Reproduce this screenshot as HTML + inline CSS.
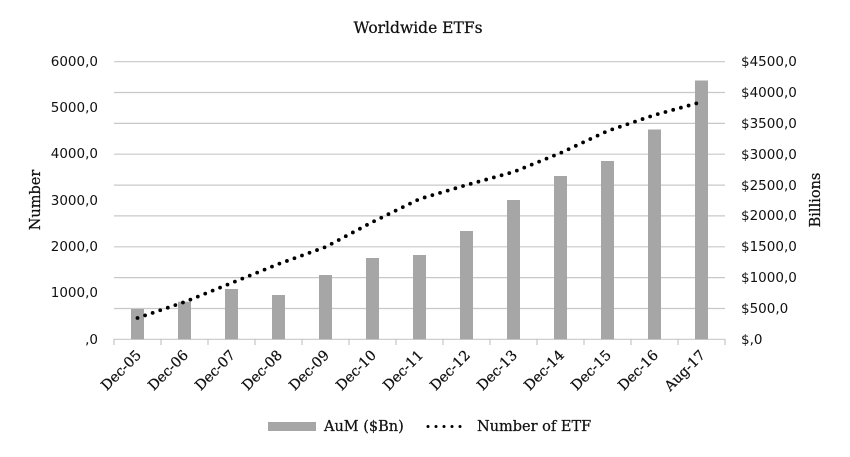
<!DOCTYPE html>
<html><head><meta charset="utf-8"><style>
body{margin:0;background:#fff;}
svg text{fill:#111;}
.t{font-family:"DejaVu Sans","Liberation Sans",sans-serif;font-size:13.5px;}
.s{font-family:"DejaVu Serif","Liberation Serif",serif;stroke:#111;stroke-width:0.25px;}
</style></head><body>
<svg width="850" height="452" xmlns="http://www.w3.org/2000/svg">
<text class="s" x="418" y="33" text-anchor="middle" font-size="15.5">Worldwide ETFs</text>
<g stroke="#c8c8c8" stroke-width="1.2">
<line x1="114" x2="725" y1="61.7" y2="61.7"/><line x1="114" x2="725" y1="92.5" y2="92.5"/>
<line x1="114" x2="725" y1="123.4" y2="123.4"/><line x1="114" x2="725" y1="154.2" y2="154.2"/>
<line x1="114" x2="725" y1="185.1" y2="185.1"/><line x1="114" x2="725" y1="215.9" y2="215.9"/>
<line x1="114" x2="725" y1="246.8" y2="246.8"/><line x1="114" x2="725" y1="277.6" y2="277.6"/>
<line x1="114" x2="725" y1="308.5" y2="308.5"/><line x1="114" x2="725" y1="339.3" y2="339.3"/>
</g>
<g stroke="#bbb" stroke-width="1">
<line x1="114" x2="114" y1="339" y2="345"/><line x1="161" x2="161" y1="339" y2="345"/><line x1="208" x2="208" y1="339" y2="345"/><line x1="255" x2="255" y1="339" y2="345"/><line x1="302" x2="302" y1="339" y2="345"/><line x1="349" x2="349" y1="339" y2="345"/><line x1="396" x2="396" y1="339" y2="345"/><line x1="443" x2="443" y1="339" y2="345"/><line x1="490" x2="490" y1="339" y2="345"/><line x1="537" x2="537" y1="339" y2="345"/><line x1="584" x2="584" y1="339" y2="345"/><line x1="631" x2="631" y1="339" y2="345"/><line x1="678" x2="678" y1="339" y2="345"/><line x1="725" x2="725" y1="339" y2="345"/>
</g>
<g fill="#a6a6a6">
<rect x="131" y="309" width="13" height="30.3"/>
<rect x="178" y="301.7" width="13" height="37.6"/>
<rect x="225" y="289" width="13" height="50.3"/>
<rect x="272" y="295" width="13" height="44.3"/>
<rect x="319" y="275" width="13" height="64.3"/>
<rect x="366" y="258" width="13" height="81.3"/>
<rect x="413" y="255" width="13" height="84.3"/>
<rect x="460" y="231" width="13" height="108.3"/>
<rect x="507" y="200" width="13" height="139.3"/>
<rect x="554" y="176" width="13" height="163.3"/>
<rect x="601" y="161" width="13" height="178.3"/>
<rect x="648" y="129.5" width="13" height="209.8"/>
<rect x="695" y="80.5" width="13" height="258.8"/>
</g>
<polyline fill="none" stroke="#000" stroke-width="3.8" stroke-linecap="round" stroke-dasharray="0 8"
points="137.5,318 184.5,302 231.5,283 278.5,264 325.5,247 372.5,222 419.5,199 466.5,185 513.5,172 560.5,153 607.5,131 654.5,115 701.5,102"/>
<g class="t" text-anchor="end">
<text x="98" y="66">6000,0</text><text x="98" y="112">5000,0</text><text x="98" y="158">4000,0</text>
<text x="98" y="205">3000,0</text><text x="98" y="251">2000,0</text><text x="98" y="297">1000,0</text><text x="98" y="344">,0</text>
</g>
<g class="t">
<text x="741" y="66">$4500,0</text><text x="741" y="97">$4000,0</text><text x="741" y="128">$3500,0</text>
<text x="741" y="159">$3000,0</text><text x="741" y="190">$2500,0</text><text x="741" y="220">$2000,0</text>
<text x="741" y="251">$1500,0</text><text x="741" y="282">$1000,0</text><text x="741" y="313">$500,0</text><text x="741" y="344">$,0</text>
</g>
<text class="s" font-size="14.5" transform="translate(40,200) rotate(-90)" text-anchor="middle">Number</text>
<text class="s" font-size="14.5" transform="translate(820,200) rotate(-90)" text-anchor="middle">Billions</text>
<g class="s" font-size="14" text-anchor="end">
<text transform="translate(142,356) rotate(-45)">Dec-05</text>
<text transform="translate(189,356) rotate(-45)">Dec-06</text>
<text transform="translate(236,356) rotate(-45)">Dec-07</text>
<text transform="translate(283,356) rotate(-45)">Dec-08</text>
<text transform="translate(330,356) rotate(-45)">Dec-09</text>
<text transform="translate(377,356) rotate(-45)">Dec-10</text>
<text transform="translate(424,356) rotate(-45)">Dec-11</text>
<text transform="translate(471,356) rotate(-45)">Dec-12</text>
<text transform="translate(518,356) rotate(-45)">Dec-13</text>
<text transform="translate(565,356) rotate(-45)">Dec-14</text>
<text transform="translate(612,356) rotate(-45)">Dec-15</text>
<text transform="translate(659,356) rotate(-45)">Dec-16</text>
<text transform="translate(706,356) rotate(-45)">Aug-17</text>
</g>
<rect x="268" y="422" width="48" height="9" fill="#a6a6a6"/>
<text class="s" x="324" y="431" font-size="14.5">AuM ($Bn)</text>
<line x1="428" x2="468" y1="426.5" y2="426.5" stroke="#000" stroke-width="3" stroke-linecap="round" stroke-dasharray="0 8"/>
<text class="s" x="477" y="431" font-size="14.5">Number of ETF</text>
</svg>
</body></html>
